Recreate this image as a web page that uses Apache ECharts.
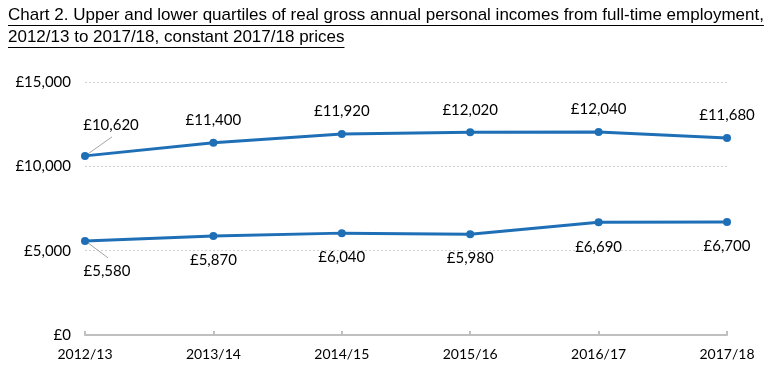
<!DOCTYPE html>
<html>
<head>
<meta charset="utf-8">
<script src="https://cdn.jsdelivr.net/npm/echarts@6/dist/echarts.min.js"></script>
<style>
html,body{margin:0;padding:0;background:#fff;}
#chart{width:777px;height:377px;}
</style>
</head>
<body>
<div id="chart"></div>
<script>
var categories = ['2012/13', '2013/14', '2014/15', '2015/16', '2016/17', '2017/18'];
var upperQuartile = [10620, 11400, 11920, 12020, 12040, 11680];
var lowerQuartile = [5580, 5870, 6040, 5980, 6690, 6700];
var titleLines = ['Chart 2. Upper and lower quartiles of real gross annual personal incomes from full-time employment,', '2012/13 to 2017/18, constant 2017/18 prices'];

var titleFont = '17px "Liberation Sans Narrow", "Arial Narrow", sans-serif';
var labelFamily = 'Lato';
var lineColor = '#1f6fb6';

function measure(text, font) {
  var c = document.createElement('canvas').getContext('2d');
  c.font = font;
  return c.measureText(text).width;
}
function fmt(v) {
  return '£' + v.toString().replace(/\B(?=(\d{3})+(?!\d))/g, ',');
}

var chart = echarts.init(document.getElementById('chart'));
var graphics = [];
titleLines.forEach(function (t, i) {
  var y = 7 + i * 22;
  graphics.push({
    type: 'text', left: 8, top: y,
    style: { text: t, font: titleFont, fill: '#000' }
  });
  var w = measure(t, titleFont);
  graphics.push({
    type: 'line', shape: { x1: 8, y1: y + 18.5, x2: 8 + w, y2: y + 18.5 },
    style: { stroke: '#000', lineWidth: 1 }
  });
});

function seriesFor(name, data, pos, dist, dx, dy) {
  return {
    name: name, type: 'line', data: data,
    symbol: 'circle', symbolSize: 8,
    lineStyle: { color: lineColor, width: 3 },
    itemStyle: { color: lineColor },
    label: {
      show: true, position: pos, distance: dist,
      formatter: function (p) { return fmt(p.value); },
      fontFamily: labelFamily, fontSize: 15, color: '#000'
    },
    labelLayout: function (p) {
      if (p.dataIndex === 0) return { dx: dx, dy: dy };
      return {};
    }
  };
}

chart.setOption({
  animation: false,
  graphic: graphics,
  grid: { left: 85, right: 50, top: 82, bottom: 42 },
  xAxis: {
    type: 'category', data: categories, boundaryGap: false,
    axisLine: { lineStyle: { color: '#bfbfbf', width: 2 } },
    axisTick: { show: true, inside: true, length: 4, alignWithLabel: true, lineStyle: { color: '#bfbfbf', width: 2 } },
    axisLabel: { color: '#000', fontFamily: labelFamily, fontSize: 14, margin: 12 }
  },
  yAxis: {
    type: 'value', min: 0, max: 15000, interval: 5000,
    axisLine: { show: false }, axisTick: { show: false },
    splitLine: { lineStyle: { color: '#d0d0d0', type: [2, 2], width: 1 } },
    axisLabel: { color: '#000', fontFamily: labelFamily, fontSize: 15, margin: 14, formatter: function (v) { return fmt(v); } }
  },
  series: [
    seriesFor('Upper quartile', upperQuartile, 'top', 11, 26, -8),
    seriesFor('Lower quartile', lowerQuartile, 'bottom', 13, 22, 6)
  ]
});

// leader lines for the first (moved) labels, anchored at the data points
var pU = chart.convertToPixel({ seriesIndex: 0 }, [0, upperQuartile[0]]);
var pL = chart.convertToPixel({ seriesIndex: 1 }, [0, lowerQuartile[0]]);
graphics.push({
  type: 'line', shape: { x1: pU[0] + 3, y1: pU[1] - 2, x2: pU[0] + 27, y2: pU[1] - 19 },
  style: { stroke: '#a6a6a6', lineWidth: 1 }, z: 1
});
graphics.push({
  type: 'line', shape: { x1: pL[0] + 3, y1: pL[1] + 2, x2: pL[0] + 23, y2: pL[1] + 17 },
  style: { stroke: '#a6a6a6', lineWidth: 1 }, z: 1
});
chart.setOption({ graphic: graphics });
</script>
</body>
</html>
